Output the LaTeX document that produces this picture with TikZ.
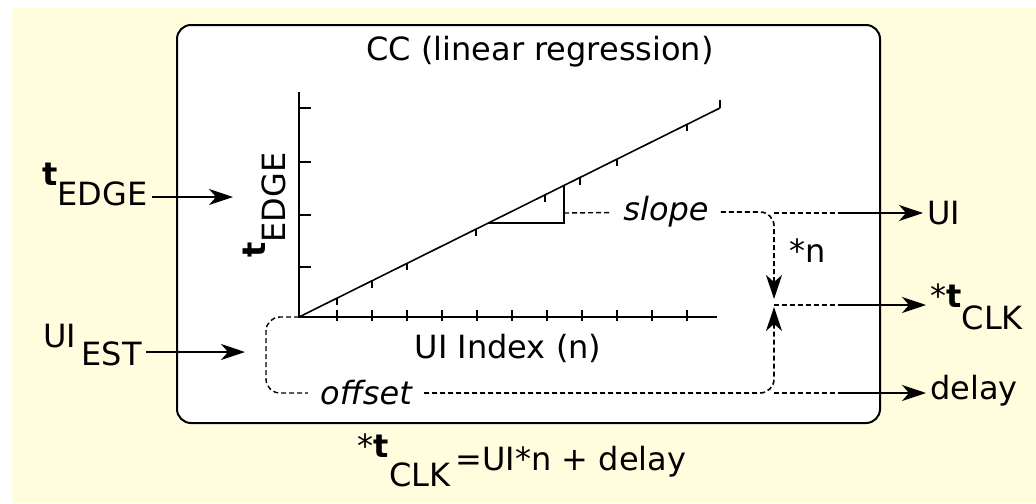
\documentclass[tikz,border=0pt]{standalone}
\usepackage{fontspec}
\setmainfont{DejaVu Sans}
\usetikzlibrary{arrows.meta}
\definecolor{paleyellow}{RGB}{255,253,222}
\newcommand{\lowsub}[2][0.65em]{\raisebox{-#1}{#2}}

\begin{document}
\begin{tikzpicture}[
    x=0.5pt, y=-0.5pt,
    txt/.style={font=\fontsize{16}{19}\selectfont, inner sep=2pt},
    axis/.style={line width=1pt},
    tick/.style={line width=0.8pt},
    dline/.style={dash pattern=on 2.5pt off 1.5pt, line width=0.7pt},
    arrow/.style={-{Stealth[length=12pt,width=8pt,inset=3.5pt]}, line width=0.8pt},
  ]
  \useasboundingbox (0,0) rectangle (1036,503);

  % Background and CC block
  \fill[paleyellow] (12,8) rectangle (1036,503);
  \draw[line width=1pt, rounded corners=7pt, fill=white] (177,25) rectangle (880,423);
  \node[txt] (title) at (540,52) {CC (linear regression)};

  % Axes
  \coordinate (origin) at (299,317);
  \draw[axis] (299,92) -- (origin) -- (717,317);
  \foreach \y in {108,162,215,267} \draw[tick] (299,\y) -- (311,\y);
  \foreach \x in {337,372,...,687} \draw[tick] (\x,310) -- (\x,321);
  \node[txt] (xlabel) at (508,348) {UI Index (n)};
  \node[txt, rotate=90, anchor=base west, inner sep=0pt] (ylabel) at (265,258) {\textbf{t}\lowsub{EDGE}};

  % Regression line
  \draw[line width=0.8pt] (origin) -- (720,108);
  \foreach \x in {337,372,407,476,545,580,617,687}
    \draw[tick] (\x,{317-(\x-299)*0.4964}) -- ++(0,7);
  \draw[tick] (720,108) -- (720,100);

  % Slope triangle
  \coordinate (tri) at (488,223);
  \draw[line width=0.8pt] (tri) -- (564,223) -- (564,185.5);
  \coordinate (slopetip) at (564,213);
  \node[txt, font=\fontsize{16}{19}\selectfont\itshape, inner sep=6pt] (slope) at (666,212) {slope};
  \draw[dline] (slopetip) -- (slope);

  % Offset loop
  \node[txt, font=\fontsize{16}{19}\selectfont\itshape, inner sep=6pt] (offset) at (366,393) {offset};
  \draw[dline, rounded corners=7pt] (origin) -- (266,317) -- (266,393) -- (offset.west);

  % Combine: UI*n + delay
  \coordinate (ncorner) at (774,213);
  \coordinate (ntip) at (774,299);
  \coordinate (ctip) at (774,307);
  \coordinate (cjoin) at (774,305);
  \coordinate (djoin) at (774,393);
  \draw[dline, rounded corners=7pt, arrow] (slope.east) -| (ntip);
  \draw[dline, rounded corners=7pt, arrow] (offset.east) -| (ctip);
  \node[txt] (nlabel) at (808,251) {*n};

  % Outputs
  \coordinate (uiout) at (839,213);
  \coordinate (clkout) at (839,305);
  \coordinate (delayout) at (839,393);
  \node[txt, anchor=west] (ui) at (923,213) {UI};
  \node[txt, anchor=base west] (tclk) at (926,307) {*\textbf{t}\lowsub[0.7em]{CLK}};
  \node[txt, anchor=west] (delay) at (926,391) {delay};
  \draw[dline] (ncorner) -- (uiout);
  \draw[dline] (cjoin) -- (clkout);
  \draw[dline] (djoin) -- (delayout);
  \draw[arrow] (uiout) -- (uiout -| ui.west);
  \draw[arrow] (clkout) -- (clkout -| tclk.west);
  \draw[arrow] (delayout) -- (delayout -| delay.west);

  % Inputs
  \coordinate (tedgein) at (233,197);
  \coordinate (uiestin) at (245,352);
  \node[txt, anchor=base west] (tedge) at (38,185) {\textbf{t}\lowsub{EDGE}};
  \node[txt, anchor=base west] (uiest) at (39,347) {UI\,\lowsub[0.58em]{EST}};
  \draw[arrow] (tedge.east |- tedgein) -- (tedgein);
  \draw[arrow] (uiest.east |- uiestin) -- (uiestin);

  % Formula
  \node[txt, anchor=base] (formula) at (522,470) {\raisebox{0.4em}{*\textbf{t}}\lowsub[0.5em]{CLK}\,=UI*n + delay};
\end{tikzpicture}
\end{document}
